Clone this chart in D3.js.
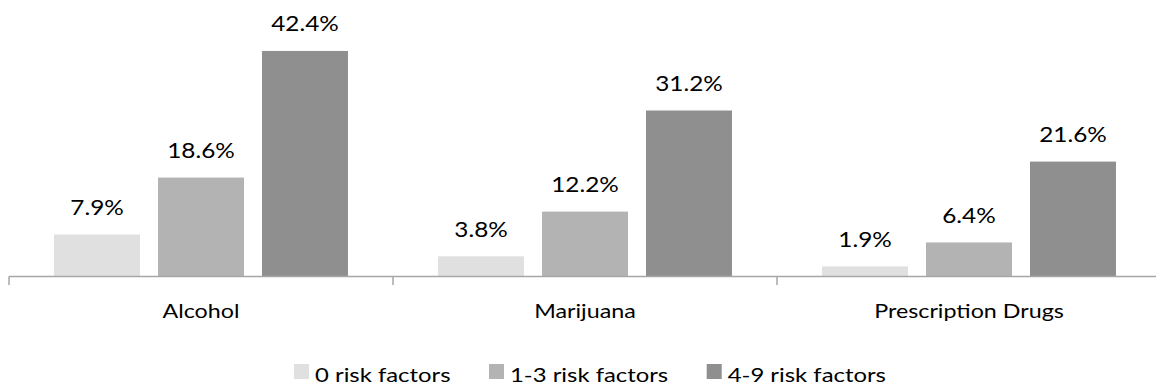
<!DOCTYPE html>
<html>
<head>
<meta charset="utf-8">
<script src="https://cdn.jsdelivr.net/npm/d3@7/dist/d3.min.js"></script>
<style>
  html, body { margin: 0; padding: 0; background: #fff; }
  svg { display: block; }
  text { font-family: Lato, "Open Sans", sans-serif; fill: #000; }
</style>
</head>
<body>
<svg id="chart" width="1156" height="386"></svg>
<script>
// Share of youth reporting use, by substance and number of risk factors
const categories = ["Alcohol", "Marijuana", "Prescription Drugs"];
const seriesNames = ["0 risk factors", "1-3 risk factors", "4-9 risk factors"];
const zeroRisk = [7.9, 3.8, 1.9];
const lowRisk = [18.6, 12.2, 6.4];
const highRisk = [42.4, 31.2, 21.6];
const seriesColors = ["#e0e0e0", "#b3b3b3", "#8f8f8f"];

const seriesValues = [zeroRisk, lowRisk, highRisk];
const rows = categories.map((c, i) => ({
  category: c,
  values: seriesNames.map((s, j) => ({ series: s, value: seriesValues[j][i], color: seriesColors[j] }))
}));

// text is set slightly wide
const stretch = "scale(1.2,1)";

const svg = d3.select("#chart");
const axisY = 276.5;

const x = d3.scaleBand().domain(categories).range([9, 9 + 384 * 3]).paddingInner(0).paddingOuter(0);
const xs = d3.scaleBand().domain(seriesNames).range([0, x.bandwidth()])
  .paddingInner(0.173).paddingOuter(0.433);
const y = d3.scaleLinear().domain([0, 45]).range([axisY, 37.1]);

// bars
const groups = svg.append("g").selectAll("g").data(rows).join("g")
  .attr("transform", d => `translate(${x(d.category)},0)`);

groups.selectAll("rect").data(d => d.values).join("rect")
  .attr("x", d => xs(d.series))
  .attr("y", d => y(d.value))
  .attr("width", xs.bandwidth())
  .attr("height", d => axisY - y(d.value))
  .attr("fill", d => d.color);

groups.selectAll("text.val").data(d => d.values).join("text")
  .attr("class", "val")
  .attr("transform", d => `translate(${xs(d.series) + xs.bandwidth() / 2},${y(d.value) - 19.5}) ${stretch}`)
  .attr("text-anchor", "middle")
  .style("font-size", "20.3px")
  .text(d => d.value.toFixed(1) + "%");

// category axis
const axisG = svg.append("g").attr("transform", `translate(0,${axisY})`);
axisG.call(d3.axisBottom(x).tickSize(0).tickPadding(0));
axisG.select(".domain").remove();
axisG.selectAll(".tick text")
  .attr("y", null)
  .attr("dy", null)
  .attr("transform", `translate(0,41.8) ${stretch}`)
  .style("font-size", "19.4px")
  .style("font-family", "Lato, 'Open Sans', sans-serif");

axisG.append("line")
  .attr("x1", x.range()[0]).attr("x2", x.range()[1])
  .attr("y1", 0).attr("y2", 0)
  .attr("stroke", "#a6a6a6").attr("stroke-width", 1.5);

axisG.selectAll("line.bound").data(categories.concat([null])).join("line")
  .attr("class", "bound")
  .attr("x1", (d, i) => i < categories.length ? x(d) : x.range()[1])
  .attr("x2", (d, i) => i < categories.length ? x(d) : x.range()[1])
  .attr("y1", 0).attr("y2", 8.5)
  .attr("stroke", "#a6a6a6").attr("stroke-width", 1.5);

// legend
const legendX = [294, 489, 706.7];
const legend = svg.append("g").selectAll("g").data(seriesNames).join("g")
  .attr("transform", (d, i) => `translate(${legendX[i]},364)`);
legend.append("rect").attr("width", 15).attr("height", 15)
  .attr("fill", (d, i) => seriesColors[i]);
legend.append("text")
  .attr("transform", `translate(21,17.7) ${stretch}`)
  .style("font-size", "19.9px")
  .text(d => d);
</script>
</body>
</html>
